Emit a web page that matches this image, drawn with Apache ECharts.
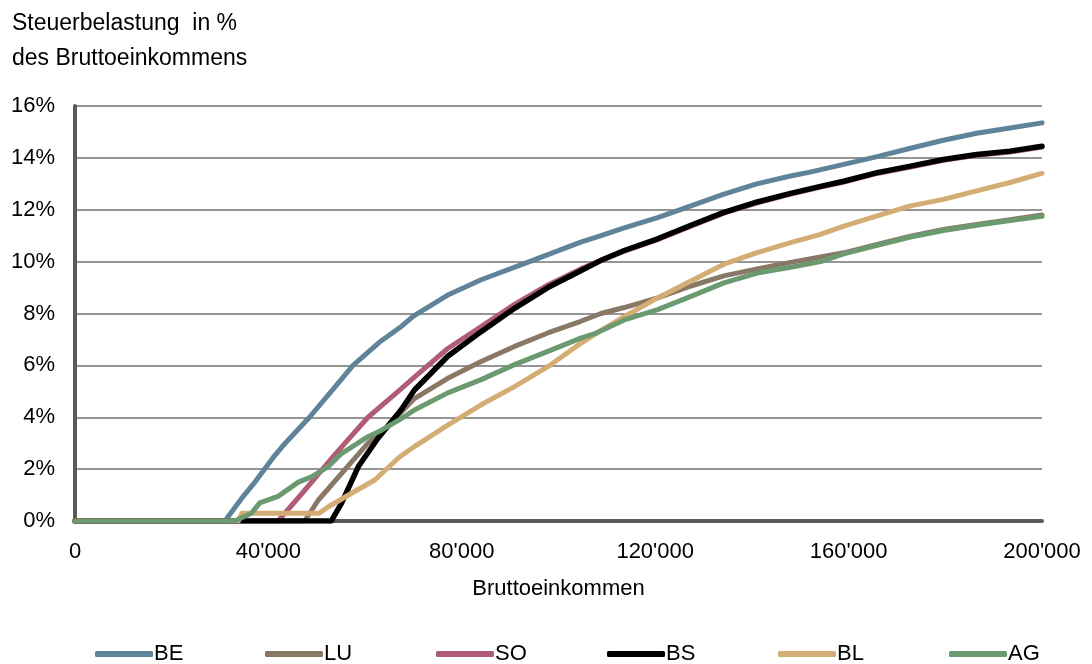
<!DOCTYPE html>
<html>
<head>
<meta charset="utf-8">
<script src="https://cdn.jsdelivr.net/npm/echarts@6/dist/echarts.min.js"></script>
<style>
  html, body { margin: 0; padding: 0; background: #fff; }
  #chart { width: 1092px; height: 664px; }
</style>
</head>
<body>
<div id="chart"></div>
<script>
// Tax burden (% of gross income) by gross income, per canton: [income, percent]
const cantons = ['BE', 'LU', 'SO', 'BS', 'BL', 'AG'];

const BE = [[0,0],[31000,0],[33000,0.5],[35000,1.0],[37000,1.45],[39000,1.95],[41000,2.45],[43000,2.9],[45500,3.4],[48500,4.0],[53000,5.0],[57500,6.0],[63000,6.9],[67500,7.5],[70000,7.9],[77000,8.7],[84000,9.3],[94000,10.0],[104600,10.75],[108800,11.0],[113600,11.3],[120500,11.7],[127400,12.15],[134200,12.6],[141000,13.0],[148000,13.3],[152000,13.45],[159000,13.75],[165900,14.05],[172800,14.37],[179600,14.68],[186500,14.95],[193400,15.15],[200000,15.35]];

const LU = [[0,0],[47500,0],[50300,0.8],[55100,1.83],[60600,3.0],[64700,3.65],[67500,4.2],[70200,4.72],[77100,5.5],[84000,6.15],[90900,6.73],[97800,7.25],[104600,7.7],[108800,8.0],[113600,8.23],[120500,8.6],[127400,9.06],[134200,9.45],[141100,9.72],[148000,9.97],[154200,10.18],[159000,10.34],[165900,10.66],[172800,10.98],[179600,11.24],[186500,11.43],[193400,11.62],[200000,11.8]];

const SO = [[0,0],[42000,0],[46900,1.05],[53700,2.55],[60600,4.0],[67500,5.1],[70200,5.55],[77100,6.65],[84000,7.5],[90900,8.35],[97800,9.1],[104600,9.72],[108800,10.05],[113600,10.4],[120500,10.85],[127400,11.37],[134200,11.87],[141100,12.27],[148000,12.6],[154200,12.87],[159000,13.07],[165900,13.4],[172800,13.65],[179600,13.91],[186500,14.1],[193400,14.23],[200000,14.42]];

const BS = [[0,0],[53000,0],[55100,0.68],[58600,2.1],[62700,3.2],[67500,4.3],[70200,5.05],[77100,6.35],[84000,7.3],[90900,8.2],[97800,9.0],[104600,9.65],[108800,10.05],[113600,10.43],[120500,10.88],[127400,11.4],[134200,11.9],[141100,12.3],[148000,12.63],[154200,12.9],[159000,13.1],[165900,13.43],[172800,13.68],[179600,13.94],[186500,14.13],[193400,14.26],[200000,14.45]];

const BL = [[0,0],[33800,0],[34500,0.3],[50500,0.3],[52400,0.55],[57200,1.07],[62000,1.58],[67000,2.45],[70200,2.87],[77100,3.7],[84000,4.48],[90900,5.18],[97800,5.95],[104600,6.85],[108800,7.35],[113600,7.88],[120500,8.6],[127400,9.25],[134200,9.9],[141100,10.35],[148000,10.73],[154200,11.05],[159000,11.37],[165900,11.76],[172800,12.15],[179600,12.4],[186500,12.73],[193400,13.05],[200000,13.4]];

const AG = [[0,0],[33000,0],[36500,0.3],[38200,0.7],[42000,0.95],[46200,1.5],[48900,1.7],[52400,2.1],[55100,2.6],[60600,3.25],[63400,3.5],[67500,3.95],[70200,4.28],[77100,4.94],[84000,5.45],[90900,6.03],[97800,6.54],[104600,7.05],[107500,7.22],[113600,7.75],[120500,8.15],[127400,8.66],[134200,9.18],[141100,9.56],[148000,9.78],[154200,10.0],[159000,10.3],[165900,10.63],[172800,10.95],[179600,11.2],[186500,11.4],[193400,11.58],[200000,11.75]];

const seriesData = { BE, LU, SO, BS, BL, AG };

const colors = {
  BE: '#5f8398',
  LU: '#8a7867',
  SO: '#b05c77',
  BS: '#000000',
  BL: '#d3ad74',
  AG: '#6c9a70'
};

const widths = { BE: 5, LU: 5, SO: 5, BS: 5.5, BL: 5, AG: 5 };

// legend entries laid out one by one along the bottom
const legendLeft = [90, 260, 431, 602, 773, 944];

const FONT = 'Liberation Sans, Arial, sans-serif';

function fmtIncome(v) {
  if (v === 0) return '0';
  const s = String(v);
  return s.slice(0, s.length - 3) + "'" + s.slice(-3);
}

const chart = echarts.init(document.getElementById('chart'), null, { renderer: 'canvas' });

chart.setOption({
  animation: false,
  backgroundColor: '#ffffff',
  textStyle: { fontFamily: FONT, color: '#000' },
  title: {
    text: 'Steuerbelastung  in %\ndes Bruttoeinkommens',
    left: 7,
    top: 1,
    textStyle: {
      fontFamily: FONT,
      fontSize: 23,
      fontWeight: 'normal',
      color: '#000',
      lineHeight: 35
    }
  },
  grid: { left: 75, right: 50, top: 106, bottom: 143, containLabel: false },
  legend: cantons.map((c, i) => ({
    data: [c],
    left: legendLeft[i],
    top: 638,
    itemWidth: 58,
    itemHeight: 6,
    icon: 'roundRect',
    textStyle: { fontFamily: FONT, fontSize: 22, color: '#000', padding: [0, 0, 0, -4] },
    selectedMode: false
  })),
  xAxis: {
    type: 'value',
    min: 0,
    max: 200000,
    interval: 40000,
    name: 'Bruttoeinkommen',
    nameLocation: 'middle',
    nameGap: 57,
    nameTextStyle: { fontFamily: FONT, fontSize: 22, color: '#000' },
    axisLine: { show: true, lineStyle: { color: '#595959', width: 4 } },
    axisTick: { show: false },
    splitLine: { show: false },
    axisLabel: {
      fontFamily: FONT,
      fontSize: 22,
      color: '#000',
      margin: 20,
      formatter: fmtIncome
    }
  },
  yAxis: {
    type: 'value',
    min: 0,
    max: 16,
    interval: 2,
    axisLine: { show: true, lineStyle: { color: '#595959', width: 4 } },
    axisTick: { show: false },
    splitLine: { show: true, lineStyle: { color: '#959595', width: 2 } },
    axisLabel: {
      fontFamily: FONT,
      fontSize: 22,
      color: '#000',
      margin: 20,
      formatter: '{value}%'
    }
  },
  series: cantons.map((c, i) => ({
    name: c,
    type: 'line',
    data: seriesData[c],
    showSymbol: false,
    symbol: 'none',
    z: 3 + i,
    color: colors[c],
    lineStyle: { color: colors[c], width: widths[c], join: 'round', cap: 'round' }
  }))
});
</script>
</body>
</html>
